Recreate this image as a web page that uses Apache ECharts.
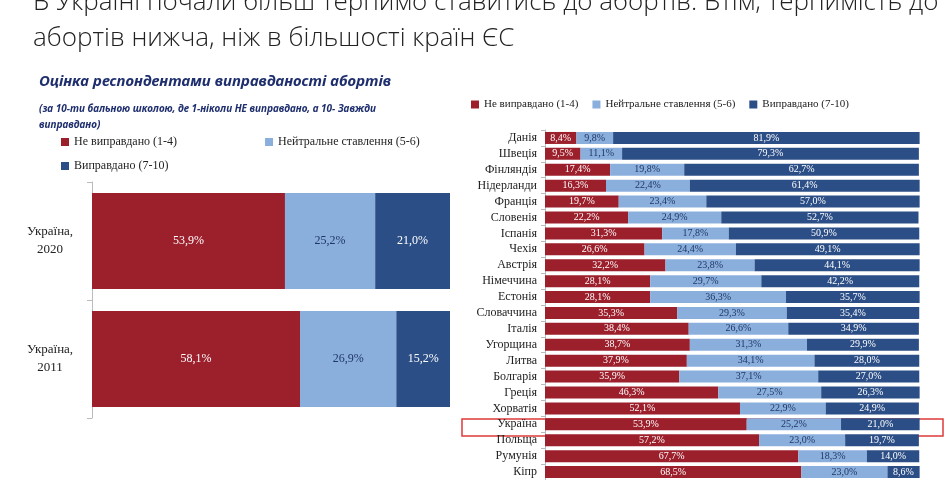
<!DOCTYPE html>
<html><head><meta charset="utf-8">
<script src="https://cdn.jsdelivr.net/npm/echarts@6/dist/echarts.min.js"></script>
<style>html,body{margin:0;padding:0;background:#fff}#c{width:952px;height:480px}</style>
</head><body><div id="c"></div>
<script>
var seriesNames = ['Не виправдано (1-4)', 'Нейтральне ставлення (5-6)', 'Виправдано (7-10)'];
var colors = ['#9c1f2c', '#8bafdc', '#2b4e86'];

var uaYears = ['Україна,\n2020', 'Україна,\n2011'];
var uaNo = [53.9, 58.1];
var uaNeutral = [25.2, 26.9];
var uaYes = [21.0, 15.2];

var countries = ['Данія','Швеція','Фінляндія','Нідерланди','Франція','Словенія','Іспанія','Чехія','Австрія','Німеччина','Естонія','Словаччина','Італія','Угорщина','Литва','Болгарія','Греція','Хорватія','Україна','Польща','Румунія','Кіпр'];
var euNo = [8.4,9.5,17.4,16.3,19.7,22.2,31.3,26.6,32.2,28.1,28.1,35.3,38.4,38.7,37.9,35.9,46.3,52.1,53.9,57.2,67.7,68.5];
var euNeutral = [9.8,11.1,19.8,22.4,23.4,24.9,17.8,24.4,23.8,29.7,36.3,29.3,26.6,31.3,34.1,37.1,27.5,22.9,25.2,23.0,18.3,23.0];
var euYes = [81.9,79.3,62.7,61.4,57.0,52.7,50.9,49.1,44.1,42.2,35.7,35.4,34.9,29.9,28.0,27.0,26.3,24.9,21.0,19.7,14.0,8.6];

var serif = 'Liberation Serif';
function fmt(p){ return p.value.toFixed(1).replace('.', ',') + '%'; }
function mk(i, data, gi, fs, bw){
  return {
    name: seriesNames[i], type: 'bar', stack: 's' + gi, xAxisIndex: gi, yAxisIndex: gi,
    data: data, barWidth: bw, itemStyle: {color: colors[i]},
    label: {show: true, formatter: fmt, fontFamily: serif, fontSize: fs,
      color: i === 1 ? '#1f3766' : '#fff'}
  };
}
var chart = echarts.init(document.getElementById('c'));
chart.setOption({
  animation: false,
  color: colors,
  title: [
    {text: 'В Україні почали більш терпимо ставитись до абортів. Втім, терпимість до\nабортів нижча, ніж в більшості країн ЄС',
     left: 28, top: -20, textStyle: {fontFamily: 'Open Sans', fontWeight: 300, fontSize: 26, lineHeight: 36, color: '#222'}},
    {text: 'Оцінка респондентами виправданості абортів', left: 34, top: 69,
     textStyle: {fontFamily: 'Noto Sans', fontStyle: 'italic', fontWeight: 'bold', fontSize: 15, color: '#1f2f6e'}},
    {text: '(за 10-ти бальною школою, де 1-ніколи НЕ виправдано, а 10- Завжди\nвиправдано)', left: 34, top: 96,
     textStyle: {fontFamily: 'Noto Sans', fontStyle: 'italic', fontSize: 10, lineHeight: 16, color: '#1f2f6e'}}
  ],
  legend: [
    {data: seriesNames.slice(0, 2), left: 56, top: 131, itemWidth: 8, itemHeight: 8, itemGap: 88,
     icon: 'rect', textStyle: {fontFamily: serif, fontSize: 12, color: '#222'}},
    {data: [seriesNames[2]], left: 56, top: 155, itemWidth: 8, itemHeight: 8, icon: 'rect',
     textStyle: {fontFamily: serif, fontSize: 12, color: '#222'}},
    {data: seriesNames, left: 466, top: 94, itemWidth: 8, itemHeight: 8, itemGap: 14, icon: 'rect',
     textStyle: {fontFamily: serif, fontSize: 11, color: '#222'}}
  ],
  grid: [
    {left: 92, width: 358, top: 182, height: 236},
    {left: 545, right: 32, top: 130, height: 352}
  ],
  xAxis: [
    {gridIndex: 0, type: 'value', min: 0, max: 100, show: false},
    {gridIndex: 1, type: 'value', min: 0, max: 100.2, show: false}
  ],
  yAxis: [
    {gridIndex: 0, type: 'category', data: uaYears, inverse: true,
     axisLine: {lineStyle: {color: '#bbb'}}, axisTick: {show: true, length: 5, lineStyle: {color: '#bbb'}},
     axisLabel: {fontFamily: serif, fontSize: 13, color: '#222', lineHeight: 18, align: 'center', margin: 42}},
    {gridIndex: 1, type: 'category', data: countries, inverse: true,
     axisLine: {lineStyle: {color: '#bbb'}}, axisTick: {show: true, length: 4, lineStyle: {color: '#bbb'}},
     axisLabel: {fontFamily: serif, fontSize: 12, color: '#222', margin: 8}}
  ],
  series: [
    mk(0, uaNo, 0, 12, 96), mk(1, uaNeutral, 0, 12, 96), mk(2, uaYes, 0, 12, 96),
    mk(0, euNo, 1, 10, 12), mk(1, euNeutral, 1, 10, 12), mk(2, euYes, 1, 10, 12)
  ],
  graphic: [
    {type: 'rect', shape: {x: 462, y: 419, width: 481, height: 17},
     style: {fill: 'none', stroke: '#e03a3a', lineWidth: 1.5}}
  ]
});
</script></body></html>
